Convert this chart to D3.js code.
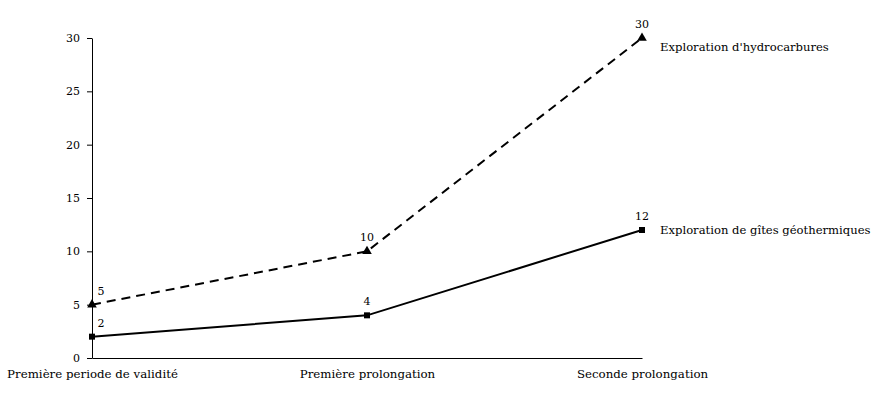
<!DOCTYPE html>
<html><head><meta charset="utf-8">
<script src="https://cdn.jsdelivr.net/npm/d3@7"></script>
<style>
body{margin:0;background:#fff;}
</style></head>
<body><svg id="c" width="881" height="394"></svg>
<script>
const categories = ["Première periode de validité", "Première prolongation", "Seconde prolongation"];
const hydroValues = [5, 10, 30];
const geoValues = [2, 4, 12];
const seriesNames = ["Exploration d'hydrocarbures", "Exploration de gîtes géothermiques"];
const yTicks = [0, 5, 10, 15, 20, 25, 30];

const FONT = "DejaVu Serif";
const FS = 11.8;
const svg = d3.select("#c");
const x = d3.scalePoint().domain(categories).range([92, 642]).padding(0);
const y = d3.scaleLinear().domain([0, 30]).range([358, 38]);

// y axis
const ya = svg.append("g").attr("transform","translate(92,0)")
  .call(d3.axisLeft(y).tickValues(yTicks).tickSize(5).tickSizeOuter(0).tickPadding(7));
ya.attr("font-family", FONT).attr("font-size", 11);
ya.selectAll("path,line").attr("stroke","#000").attr("stroke-width",1);
ya.selectAll("text").attr("fill","#000");

// x axis
const xa = svg.append("g").attr("transform","translate(0,358)")
  .call(d3.axisBottom(x).tickSize(0).tickSizeOuter(0).tickPadding(12));
xa.attr("font-family", FONT).attr("font-size", FS);
xa.selectAll("path").attr("stroke","#000").attr("stroke-width",1);
xa.selectAll("text").attr("fill","#000");

const line = d3.line().x((d,i)=>x(categories[i])).y(d=>y(d));

const series = [
  {name: seriesNames[0], values: hydroValues, dash: "9,6", marker: "triangle"},
  {name: seriesNames[1], values: geoValues, dash: null, marker: "square"}
];

series.forEach(s=>{
  svg.append("path").datum(s.values).attr("d", line)
    .attr("fill","none").attr("stroke","#000").attr("stroke-width",2)
    .attr("stroke-dasharray", s.dash);
  const sym = s.marker === "triangle" ? d3.symbolTriangle : d3.symbolSquare;
  svg.selectAll(null).data(s.values).enter().append("path")
    .attr("d", d3.symbol().type(sym).size(s.marker==="triangle"?40:36))
    .attr("transform",(d,i)=>`translate(${x(categories[i])},${y(d)})`)
    .attr("fill","#000");
  svg.selectAll(null).data(s.values).enter().append("text")
    .attr("x",(d,i)=>x(categories[i]) + (i===0?9:0))
    .attr("y",(d,i)=>y(d) - 10)
    .attr("text-anchor","middle")
    .attr("font-family", FONT).attr("font-size", 11).attr("fill","#000")
    .text(d=>d);
  const last = s.values.length-1;
  svg.append("text")
    .attr("x", x(categories[last]) + 18)
    .attr("y", y(s.values[last]) + 4 + (s.marker==="triangle"?9:0))
    .attr("font-family", FONT).attr("font-size", 11.6).attr("fill","#000")
    .text(s.name);
});
</script></body></html>
